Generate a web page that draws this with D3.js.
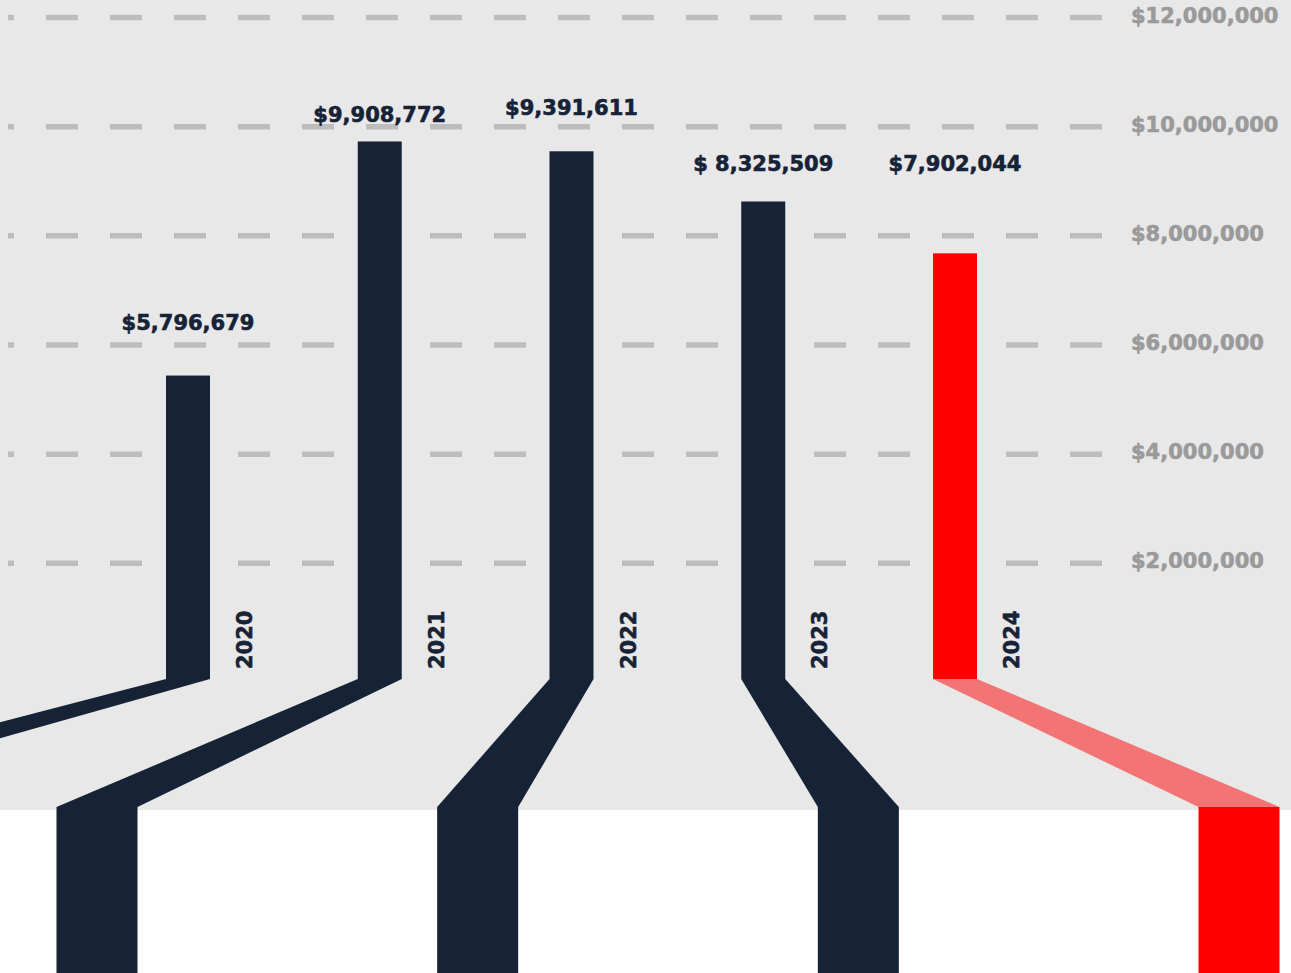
<!DOCTYPE html>
<html>
<head>
<meta charset="utf-8">
<script src="https://cdn.jsdelivr.net/npm/d3@7"></script>
<style>
  html, body { margin: 0; padding: 0; background: #ffffff; }
  svg { display: block; }
  text { font-family: "DejaVu Sans", "Liberation Sans", sans-serif; font-weight: bold; }
</style>
</head>
<body>
<svg id="chart" width="1291" height="973"></svg>
<script>
// ---- data ----
const years = ["2020", "2021", "2022", "2023", "2024"];
const barValues = [5440000, 9730000, 9550000, 8630000, 7680000];
const valueLabels = ["$5,796,679", "$9,908,772", "$9,391,611", "$ 8,325,509", "$7,902,044"];
const highlightYear = "2024";
const tickValues = [2000000, 4000000, 6000000, 8000000, 10000000, 12000000];
const tickLabels = ["$2,000,000", "$4,000,000", "$6,000,000", "$8,000,000", "$10,000,000", "$12,000,000"];
// annotation anchor levels (in value units) for the value labels
const labelLevels = [6400000, 10220000, 10350000, 9320000, 9320000];

// ---- layout ----
const W = 1291, H = 973;
const panelBottom = 810;
const barBase = 679;
const ribbonBottom = 807;
const barW = 44, footW = 81;
const navy = "#162236", red = "#ff0000", redLight = "#f27474";

const svg = d3.select("#chart");

const y = d3.scaleLinear().domain([0, 12000000]).range([672.4, 17.6]);
const x = d3.scalePoint().domain(years).range([188, 955]);
const foot = d3.scaleLinear().domain([1, 4]).range([97, 1239]);

svg.append("rect").attr("x", 0).attr("y", 0).attr("width", W).attr("height", panelBottom).attr("fill", "#e8e8e8");

// gridlines
svg.append("g").selectAll("line").data(tickValues).join("line")
  .attr("x1", 8).attr("x2", 1102)
  .attr("y1", d => y(d)).attr("y2", d => y(d))
  .attr("stroke", "#bdbdbd").attr("stroke-width", 5.5)
  .attr("stroke-dasharray", "32,32").attr("stroke-dashoffset", 26);

// axis labels
svg.append("g").selectAll("text").data(tickValues).join("text")
  .attr("x", 1131).attr("y", d => y(d) - 2)
  .attr("dominant-baseline", "central")
  .attr("font-size", 21).attr("fill", "#9a9a9a")
  .attr("stroke", "#9a9a9a").attr("stroke-width", 0.6)
  .text((d, i) => tickLabels[i]);

const rows = years.map((yr, i) => ({ yr, i, v: barValues[i], label: valueLabels[i], level: labelLevels[i], hi: yr === highlightYear }));

// ribbons
svg.append("g").selectAll("path").data(rows).join("path")
  .attr("d", d => {
    const bx0 = x(d.yr) - barW / 2, bx1 = x(d.yr) + barW / 2;
    const fc = foot(d.i);
    const fx0 = fc - footW / 2, fx1 = fc + footW / 2;
    return d3.line()([[bx0, barBase], [bx1, barBase], [fx1, ribbonBottom], [fx0, ribbonBottom]]) + "Z";
  })
  .attr("fill", d => d.hi ? redLight : navy);

// feet
svg.append("g").selectAll("rect").data(rows).join("rect")
  .attr("x", d => foot(d.i) - footW / 2).attr("width", footW)
  .attr("y", ribbonBottom).attr("height", H - ribbonBottom)
  .attr("fill", d => d.hi ? red : navy);

// bars
svg.append("g").selectAll("rect").data(rows).join("rect")
  .attr("x", d => x(d.yr) - barW / 2).attr("width", barW)
  .attr("y", d => y(d.v)).attr("height", d => barBase - y(d.v))
  .attr("fill", d => d.hi ? red : navy);

// value labels
svg.append("g").selectAll("text").data(rows).join("text")
  .attr("x", d => x(d.yr)).attr("y", d => y(d.level))
  .attr("text-anchor", "middle").attr("dominant-baseline", "central")
  .attr("font-size", 21).attr("fill", navy)
  .attr("stroke", navy).attr("stroke-width", 0.6)
  .text(d => d.label);

// year labels
svg.append("g").selectAll("text").data(rows).join("text")
  .attr("transform", d => `translate(${x(d.yr) + 64},${669}) rotate(-90)`)
  .attr("text-anchor", "start")
  .attr("font-size", 21).attr("fill", navy)
  .attr("stroke", navy).attr("stroke-width", 0.6)
  .text(d => d.yr);
</script>
</body>
</html>
